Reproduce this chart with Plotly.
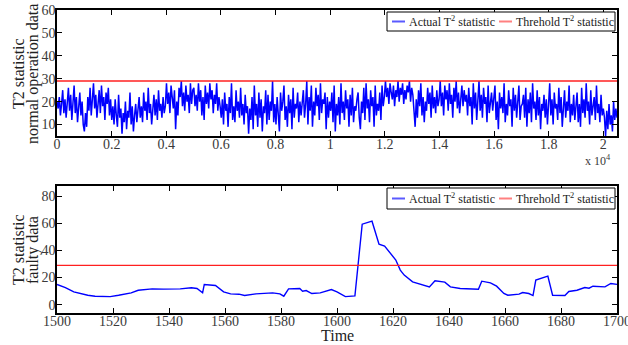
import numpy as np
import plotly.graph_objects as go

# T2 statistic under normal operation (sampled along the record)
t2_normal = [
    20, 17, 22, 14, 19, 25, 15, 21, 13, 18, 26, 16, 23, 12, 19, 27, 15, 22, 11, 17, 24, 14, 20, 10,
    7, 15, 9, 22, 16, 26, 14, 21, 28, 17, 23, 13, 20, 25, 15, 27, 18, 22, 12, 24, 19, 26, 14, 21,
    12, 18, 10, 21, 14, 9, 23, 13, 17, 6, 15, 11, 20, 8, 16, 13, 24, 10, 18, 7, 14, 19, 11, 16,
    22, 13, 18, 11, 24, 16, 20, 12, 26, 15, 19, 10, 17, 23, 14, 21, 12, 25, 16, 19, 13, 22, 15, 18,
    28, 19, 24, 15, 27, 21, 17, 25, 8, 20, 14, 26, 22, 29, 18, 24, 16, 27, 20, 23, 15, 28, 19, 25,
    26, 18, 23, 16, 28, 20, 25, 14, 22, 12, 27, 19, 24, 17, 28, 21, 25, 15, 23, 19, 28, 16, 22, 18,
    13, 21, 10, 24, 16, 19, 9, 22, 15, 28, 12, 18, 11, 25, 16, 20, 13, 26, 14, 19, 10, 23, 15, 18,
    6, 17, 12, 22, 8, 27, 14, 19, 9, 24, 13, 21, 7, 18, 15, 25, 10, 23, 12, 20, 16, 29, 11, 19,
    10, 22, 14, 7, 24, 16, 20, 27, 12, 18, 9, 23, 15, 21, 8, 26, 13, 19, 17, 24, 11, 20, 14, 22,
    25, 13, 19, 29, 10, 22, 16, 27, 9, 20, 14, 26, 18, 23, 12, 28, 15, 21, 19, 24, 8, 22, 13, 20,
    16, 24, 11, 27, 7, 19, 14, 22, 10, 28, 15, 20, 12, 25, 17, 21, 9, 23, 14, 26, 11, 18, 16, 21,
    24, 13, 8, 20, 15, 26, 12, 28, 17, 21, 11, 25, 18, 22, 9, 27, 14, 19, 16, 24, 12, 27, 18, 22,
    29, 22, 26, 19, 28, 24, 21, 27, 18, 25, 22, 29, 20, 26, 23, 28, 19, 25, 21, 27, 24, 29, 20, 26,
    23, 16, 9, 21, 13, 25, 18, 28, 14, 22, 11, 20, 16, 26, 19, 24, 13, 27, 17, 22, 15, 25, 18, 21,
    29, 18, 24, 14, 27, 21, 25, 16, 28, 19, 23, 13, 26, 20, 29, 17, 24, 15, 22, 27, 18, 25, 20, 23,
    14, 26, 18, 22, 10, 28, 17, 24, 12, 21, 29, 16, 23, 13, 26, 19, 22, 11, 27, 15, 20, 24, 16, 21,
    27, 12, 20, 8, 24, 17, 22, 15, 28, 11, 19, 14, 25, 18, 21, 9, 26, 16, 23, 13, 20, 27, 12, 18,
    19, 23, 13, 26, 9, 21, 15, 24, 11, 28, 17, 20, 12, 25, 14, 22, 8, 19, 16, 23, 13, 21, 10, 18,
    28, 14, 21, 10, 24, 17, 19, 12, 26, 15, 22, 9, 18, 25, 13, 20, 16, 27, 11, 19, 14, 23, 12, 17,
    24, 11, 19, 9, 26, 15, 21, 13, 28, 16, 20, 10, 25, 14, 18, 22, 12, 27, 15, 19, 11, 23, 14, 17,
    13, 5, 16, 8, 19, 10, 14, 7, 20, 12, 17, 13,
]
n_samples = 20500
t_normal = np.linspace(0, n_samples, len(t2_normal))

# T2 statistic on the faulty data window
t_fault = [1500, 1503, 1506, 1511, 1513.6, 1519, 1522, 1526.5, 1529, 1534, 1538, 1544,
           1548, 1550, 1552, 1552.6, 1556.6, 1559.5, 1562, 1565, 1567, 1571, 1577,
           1579.6, 1581, 1582.7, 1586.7, 1587.7, 1589, 1591, 1594, 1598, 1600, 1603,
           1606.4, 1609, 1612.5, 1614, 1615, 1617, 1619, 1621, 1622.6, 1624, 1627,
           1631, 1633, 1635, 1638.5, 1640.5, 1644, 1650.5, 1651.7, 1654.8, 1657,
           1659.6, 1661, 1665, 1666.3, 1668.5, 1670, 1671, 1674, 1675.3, 1677,
           1681.4, 1682.8, 1685.7, 1688.5, 1690, 1691.4, 1695.7, 1697.8, 1700]
t2_fault = [14.9, 12.6, 9.4, 6.9, 6.2, 5.9, 6.9, 8.7, 10.6, 11.6, 11.4, 11.6,
            12.4, 11.9, 8.7, 14.9, 14.1, 9.4, 7.9, 7.7, 6.7, 7.9, 8.7,
            7.9, 6.2, 11.6, 11.9, 9.9, 10.4, 8.2, 8.7, 11.1, 9.4, 5.9,
            6.4, 59.4, 61.6, 51.5, 44.6, 43.3, 38.4, 32.9, 25.5, 21.8, 16.8,
            14.4, 13.1, 17.6, 16.6, 13.1, 11.9, 11.4, 17.3, 16.1, 13.6,
            8.2, 6.9, 7.7, 8.9, 8.2, 6.7, 18.1, 20.5, 21.0, 6.9,
            6.7, 9.7, 10.6, 12.6, 12.1, 13.6, 13.1, 15.6, 14.9]

threshold = 29.0
top_xticks = [0, 0.2, 0.4, 0.6, 0.8, 1, 1.2, 1.4, 1.6, 1.8, 2]
bottom_xticks = [1500, 1520, 1540, 1560, 1580, 1600, 1620, 1640, 1660, 1680, 1700]
legend_labels = ["Actual T<sup>2</sup> statistic", "Threhold T<sup>2</sup> statistic"]
top_ylabel = ["T2 statistic", "normal operation data"]
bottom_ylabel = ["T2 statistic", "faulty data"]

FONT = "Liberation Serif"
BLUE = "#0000ff"
RED = "#ff2020"
TICK_GREY = "#3a3a3a"
TEXT = "#222"

# page geometry (px) of the plotting region
W, H = 628, 345
ML, MR, MT, MB = 57, 11, 10, 32
PW, PH = W - ML - MR, H - MT - MB


def px_x(x):
    return (x - ML) / PW


def px_y(y):
    return 1 - (y - MT) / PH


fig = go.Figure()

fig.add_trace(go.Scatter(x=t_normal, y=t2_normal, mode="lines",
                         line=dict(color=BLUE, width=1.5), name=legend_labels[0],
                         xaxis="x", yaxis="y"))
fig.add_trace(go.Scatter(x=[0, n_samples], y=[threshold, threshold], mode="lines",
                         line=dict(color=RED, width=1.4), name=legend_labels[1],
                         xaxis="x", yaxis="y"))
fig.add_trace(go.Scatter(x=t_fault, y=t2_fault, mode="lines",
                         line=dict(color=BLUE, width=1.4), name=legend_labels[0],
                         xaxis="x2", yaxis="y2"))
fig.add_trace(go.Scatter(x=[1500, 1700], y=[threshold, threshold], mode="lines",
                         line=dict(color=RED, width=1.3), name=legend_labels[1],
                         xaxis="x2", yaxis="y2"))

axis_style = dict(showline=True, linecolor="black", linewidth=1.5, mirror="allticks",
                  ticks="inside", ticklen=5, tickcolor="black", tickwidth=1,
                  showgrid=False, zeroline=False, automargin=False,
                  ticklabeloverflow="allow",
                  tickfont=dict(family=FONT, size=14, color=TICK_GREY))

# boxed legends drawn in the upper-right corner of each panel
shapes, annotations = [], []
for top, bottom in [(12, 31), (188, 209)]:
    mid = (top + bottom) / 2
    shapes.append(dict(type="rect", xref="paper", yref="paper",
                       x0=px_x(387), x1=px_x(615), y0=px_y(bottom), y1=px_y(top),
                       line=dict(color="black", width=1), fillcolor="white", layer="above"))
    for (x0, x1), color, label, tx in [((392, 405), "#5a5aff", legend_labels[0], 407),
                                       ((499, 512), "#ff8080", legend_labels[1], 514)]:
        shapes.append(dict(type="line", xref="paper", yref="paper",
                           x0=px_x(x0), x1=px_x(x1), y0=px_y(mid), y1=px_y(mid),
                           line=dict(color=color, width=2), layer="above"))
        annotations.append(dict(text=label, xref="paper", yref="paper",
                                x=px_x(tx), y=px_y(mid), xanchor="left", yanchor="middle",
                                showarrow=False, font=dict(family=FONT, size=12, color=TEXT)))

# two-line rotated y titles, one annotation per line for tight spacing
for lines, yc in [(top_ylabel, 74), (bottom_ylabel, 250)]:
    for text, xc in zip(lines, [18, 33]):
        annotations.append(dict(text=text, xref="paper", yref="paper",
                                x=px_x(xc), y=px_y(yc), xanchor="center", yanchor="middle",
                                textangle=-90, showarrow=False,
                                font=dict(family=FONT, size=16, color=TEXT)))

annotations += [
    dict(text="x 10<sup>4</sup>", xref="paper", yref="paper",
         x=px_x(613), y=px_y(160), xanchor="right", yanchor="middle",
         showarrow=False, font=dict(family=FONT, size=12, color=TICK_GREY)),
    dict(text="Time", xref="paper", yref="paper",
         x=px_x(337), y=px_y(335), xanchor="center", yanchor="middle",
         showarrow=False, font=dict(family=FONT, size=16, color=TEXT)),
]

fig.update_layout(
    width=W, height=H,
    margin=dict(l=ML, r=MR, t=MT, b=MB),
    paper_bgcolor="white", plot_bgcolor="white",
    showlegend=False,
    xaxis=dict(domain=[0, 1], anchor="y", range=[0, n_samples],
               tickvals=[v * 1e4 for v in top_xticks],
               ticktext=[f"{v:g}" for v in top_xticks], ticklabelstandoff=-6, **axis_style),
    yaxis=dict(domain=[px_y(136), 1], anchor="x", range=[5, 60],
               tickvals=[10, 20, 30, 40, 50, 60], ticklabelstandoff=-3, **axis_style),
    xaxis2=dict(domain=[0, 1], anchor="y2", range=[1500, 1700], tickvals=bottom_xticks,
                ticklabelstandoff=-6, **axis_style),
    yaxis2=dict(domain=[0, px_y(186)], anchor="x2", range=[-6.2, 87.6],
                tickvals=[0, 20, 40, 60, 80], ticklabelstandoff=-3, **axis_style),
    shapes=shapes,
    annotations=annotations,
)

fig.write_html("out.html")
